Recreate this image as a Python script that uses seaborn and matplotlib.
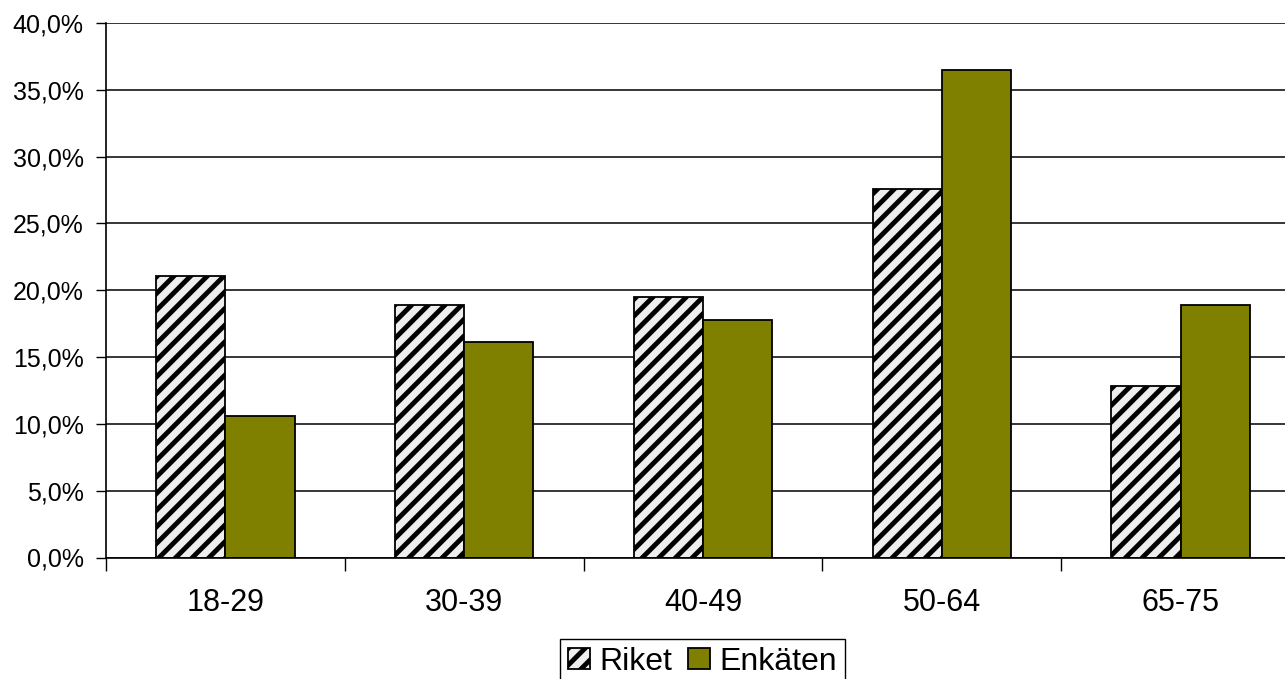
import pandas as pd
import matplotlib
matplotlib.use("Agg")
import matplotlib.pyplot as plt
import seaborn as sns
from matplotlib.ticker import FuncFormatter, FixedLocator

# data (percent)
age_groups = ["18-29", "30-39", "40-49", "50-64", "65-75"]
riket = [21.1, 18.9, 19.5, 27.6, 12.8]
enkaten = [10.6, 16.1, 17.8, 36.5, 18.9]
series = ["Riket", "Enkäten"]

df = pd.DataFrame({
    "age": age_groups * 2,
    "value": riket + enkaten,
    "series": [series[0]] * len(age_groups) + [series[1]] * len(age_groups),
})

sns.set_style("white")
plt.rcParams["font.family"] = ["Liberation Sans", "DejaVu Sans"]
plt.rcParams["text.color"] = "black"
plt.rcParams["xtick.color"] = "black"
plt.rcParams["ytick.color"] = "black"
plt.rcParams["hatch.linewidth"] = 3.5
plt.rcParams["hatch.color"] = "black"

fig = plt.figure(figsize=(12.85, 6.79), dpi=100)
ax = fig.add_axes([106 / 1285, (679 - 557.5) / 679, 1194 / 1285, 534.5 / 679])

sns.barplot(data=df, x="age", y="value", hue="series", ax=ax,
            palette={"Riket": "#EEEEEE", "Enkäten": "#808000"}, saturation=1,
            edgecolor="black", linewidth=1.3, width=0.58, gap=0,
            legend=False)

for p in ax.containers[0].patches:
    p.set_hatch("//")

ax.set_xlim(-0.5, 4.5)
ax.set_ylim(0, 40)
ax.set_yticks(range(0, 41, 5))
ax.yaxis.set_major_formatter(FuncFormatter(lambda v, _: f"{v:.1f}%".replace(".", ",")))
ax.set_xlabel("")
ax.set_ylabel("")

ax.yaxis.grid(True, color="black", linewidth=1.1)
ax.set_axisbelow(True)
for s in ["top", "right"]:
    ax.spines[s].set_visible(False)
for s in ["left", "bottom"]:
    ax.spines[s].set_color("black")
    ax.spines[s].set_linewidth(1.2)

ax.tick_params(axis="y", left=True, length=7, width=1, labelsize=18, pad=9)
ax.tick_params(axis="x", which="major", length=0, labelsize=22, pad=22)
ax.xaxis.set_minor_locator(FixedLocator([-0.5, 0.5, 1.5, 2.5, 3.5, 4.5]))
ax.tick_params(axis="x", which="minor", bottom=True, length=9, width=1)

handles = [ax.containers[0].patches[0], ax.containers[1].patches[0]]
ax.legend(handles, series, loc="upper center",
          bbox_to_anchor=(702.5 / 1285, 40 / 679), bbox_transform=fig.transFigure,
          ncol=2, fontsize=23, frameon=True, fancybox=False, edgecolor="black",
          framealpha=1, handlelength=0.68, handleheight=0.65, handletextpad=0.3,
          columnspacing=0.5, borderpad=0.25, borderaxespad=0)
ax.get_legend().get_frame().set_linewidth(1.0)

fig.savefig("out.png", dpi=100)
